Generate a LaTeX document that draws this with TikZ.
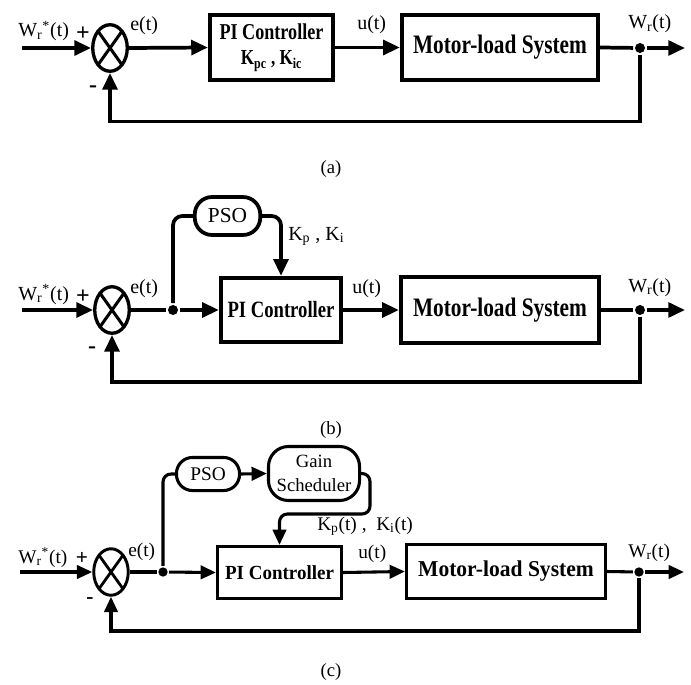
\documentclass[tikz,border=0pt]{standalone}
\usepackage{fontspec}
\setmainfont{Liberation Serif}
\newfontfamily\cnda[FakeStretch=0.8]{Liberation Serif}
\newfontfamily\cndc[FakeStretch=0.95]{Liberation Serif}
\usetikzlibrary{arrows.meta,shapes.geometric,calc}
\newcommand\fs[1]{\fontsize{#1}{#1}\selectfont}
\tikzset{
 wire/.style={line width=2.8pt},
 wirec/.style={line width=2.3pt},
 arr/.style={-{Triangle[length=12.5pt,width=11pt]}},
 arrc/.style={-{Triangle[length=11.5pt,width=10pt]}},
 sumj/.style={ellipse, draw, line width=2.5pt, minimum width=25.9pt, minimum height=34.9pt, inner sep=0pt},
 blk/.style={draw, rectangle, inner sep=0pt, align=center},
 optbox/.style={draw, rounded corners=12pt, inner sep=0pt, align=center},
 jdot/.style={circle, fill, inner sep=0pt, minimum size=7.5pt},
 lbl/.style={inner sep=0pt, anchor=base west, font=\fs{15}},
 sgn/.style={inner sep=0pt, font=\fs{18}\bfseries},
 capt/.style={inner sep=0pt, font=\fs{14}},
}
\begin{document}
\begin{tikzpicture}[x=0.75pt,y=-0.75pt]
\useasboundingbox (0,0) rectangle (691,684);

% ===================== (a) =====================
\begin{scope}[wire]
\coordinate (ina) at (22,48);
\coordinate (outa) at (685,48);
\node[sumj] (suma) at (110,48) {};
\draw[line width=2.3pt] ($(suma.center)+(-12.5,-17.5)$) -- ($(suma.center)+(12.5,17.5)$);
\draw[line width=2.3pt] ($(suma.center)+(-12.5,17.5)$) -- ($(suma.center)+(12.5,-17.5)$);
\node[blk, wire, minimum width=92.6pt, minimum height=49.1pt] (pia) at (271.5,47.5)
 {\cnda\bfseries\fs{17}PI Controller\\[7pt]\cnda\bfseries\fs{16}K\textsubscript{pc} , K\textsubscript{ic}};
\node[blk, wire, minimum width=147.4pt, minimum height=49.1pt] (mota) at (500,47.5)
 {\cnda\bfseries\fs{20}Motor-load System};
\node[jdot] (da) at (640,48) {};
\draw[arr] (ina) -- (suma.west);
\draw[arr] (suma.east) -- (pia.west);
\draw[arr] (pia.east) -- (mota.west);
\draw (mota.east) -- (da);
\draw[arr] (da) -- (outa);
\draw[arr] (da) -- ++(0,73.5) -| (suma.south);
\end{scope}
\node[lbl] (wsa) at (18,37) {W\textsubscript{r}\textsuperscript{*}(t)};
\node[sgn] (pla) at (83,34) {+};
\node[sgn] (mia) at (93,89) {-};
\node[lbl] (ea) at (130,31) {e(t)};
\node[lbl] (ua) at (357,30) {u(t)};
\node[lbl] (wa) at (628,29) {W\textsubscript{r}(t)};
\node[capt] (capa) at (331,169) {(a)};

% ===================== (b) =====================
\begin{scope}[wire]
\coordinate (inb) at (22,310);
\coordinate (outb) at (685,310);
\node[sumj] (sumb) at (112,310) {};
\draw[line width=2.3pt] ($(sumb.center)+(-12.5,-17.5)$) -- ($(sumb.center)+(12.5,17.5)$);
\draw[line width=2.3pt] ($(sumb.center)+(-12.5,17.5)$) -- ($(sumb.center)+(12.5,-17.5)$);
\node[jdot] (jb) at (173,310) {};
\node[optbox, wire, rounded corners=13pt, minimum width=49.1pt, minimum height=28.5pt] (psob) at (227.5,216) {\fs{16}PSO};
\node[blk, wire, minimum width=90.4pt, minimum height=48.4pt] (pib) at (281,310)
 {\cnda\bfseries\fs{17.5}PI Controller};
\node[blk, wire, minimum width=148.9pt, minimum height=49.1pt] (motb) at (500,310)
 {\cnda\bfseries\fs{20}Motor-load System};
\node[jdot] (db) at (640,310) {};
\draw[arr] (inb) -- (sumb.west);
\draw (sumb.east) -- (jb);
\draw[arr] (jb) -- (pib.west);
\draw[rounded corners=7pt] (jb) |- (psob.west);
\draw[arr, rounded corners=7pt] (psob.east) -| (pib.north);
\draw[arr] (pib.east) -- (motb.west);
\draw (motb.east) -- (db);
\draw[arr] (db) -- (outb);
\draw[arr] (db) -- ++(0,72) -| (sumb.south);
\end{scope}
\node[lbl] (wsb) at (18,300) {W\textsubscript{r}\textsuperscript{*}(t)};
\node[sgn] (plb) at (83,297) {+};
\node[sgn] (mib) at (92,350) {-};
\node[lbl] (eb) at (130,293) {e(t)};
\node[lbl] (kb) at (288,240) {K\textsubscript{p} , K\textsubscript{i}};
\node[lbl] (ub) at (352,293) {u(t)};
\node[lbl] (wb) at (628,292) {W\textsubscript{r}(t)};
\node[capt] (capb) at (331,430) {(b)};

% ===================== (c) =====================
\begin{scope}[wirec]
\coordinate (inc) at (20,572);
\coordinate (outc) at (684,572);
\coordinate (gk) at (370,514);
\node[sumj, line width=2.2pt] (sumc) at (111,572) {};
\draw[line width=2.1pt] ($(sumc.center)+(-12.5,-17.5)$) -- ($(sumc.center)+(12.5,17.5)$);
\draw[line width=2.1pt] ($(sumc.center)+(-12.5,17.5)$) -- ($(sumc.center)+(12.5,-17.5)$);
\node[jdot, minimum size=7pt] (jc) at (163,572) {};
\node[optbox, wirec, minimum width=47.3pt, minimum height=24.8pt] (psoc) at (208,474) {\fs{14.5}PSO};
\node[optbox, wirec, rounded corners=15pt, minimum width=68.3pt, minimum height=40.5pt,
      font=\fontsize{14}{18}\selectfont] (gain) at (314,473.5)
 {Gain\\Scheduler};
\node[blk, wirec, minimum width=93pt, minimum height=39pt] (pic) at (279.5,572.5)
 {\cndc\bfseries\fs{15}PI Controller};
\node[blk, wirec, minimum width=149.3pt, minimum height=40.5pt] (motc) at (506,571.5)
 {\cndc\bfseries\fs{17}Motor-load System};
\node[jdot, minimum size=7pt] (dc) at (639,572) {};
\draw[arrc] (inc) -- (sumc.west);
\draw (sumc.east) -- (jc);
\draw[arrc] (jc) -- (pic.west);
\draw[rounded corners=6pt] (jc) |- (psoc.west);
\draw[arrc] (psoc.east) -- (gain.west);
\draw[arrc, rounded corners=6pt] (gain.east) -| (gk) -| (pic.north);
\draw[arrc] (pic.east) -- (motc.west);
\draw (motc.east) -- (dc);
\draw[arrc] (dc) -- (outc);
\draw[arrc] (dc) -- ++(0,59) -| (sumc.south);
\end{scope}
\node[lbl, font=\fs{14.5}] (wsc) at (18,563) {W\textsubscript{r}\textsuperscript{*}(t)};
\node[sgn, font=\fs{16}\bfseries] (plc) at (82,558) {+};
\node[sgn, font=\fs{16}\bfseries] (mic) at (90,601) {-};
\node[lbl, font=\fs{14.5}] (ec) at (128,556) {e(t)};
\node[lbl, font=\fs{14.5}] (kc) at (317,530) {K\textsubscript{p}(t) ,\ \ K\textsubscript{i}(t)};
\node[lbl, font=\fs{14.5}] (uc) at (358,558) {u(t)};
\node[lbl, font=\fs{14.5}] (wc) at (628,557) {W\textsubscript{r}(t)};
\node[capt] (capc) at (331,672) {(c)};
\end{tikzpicture}
\end{document}
